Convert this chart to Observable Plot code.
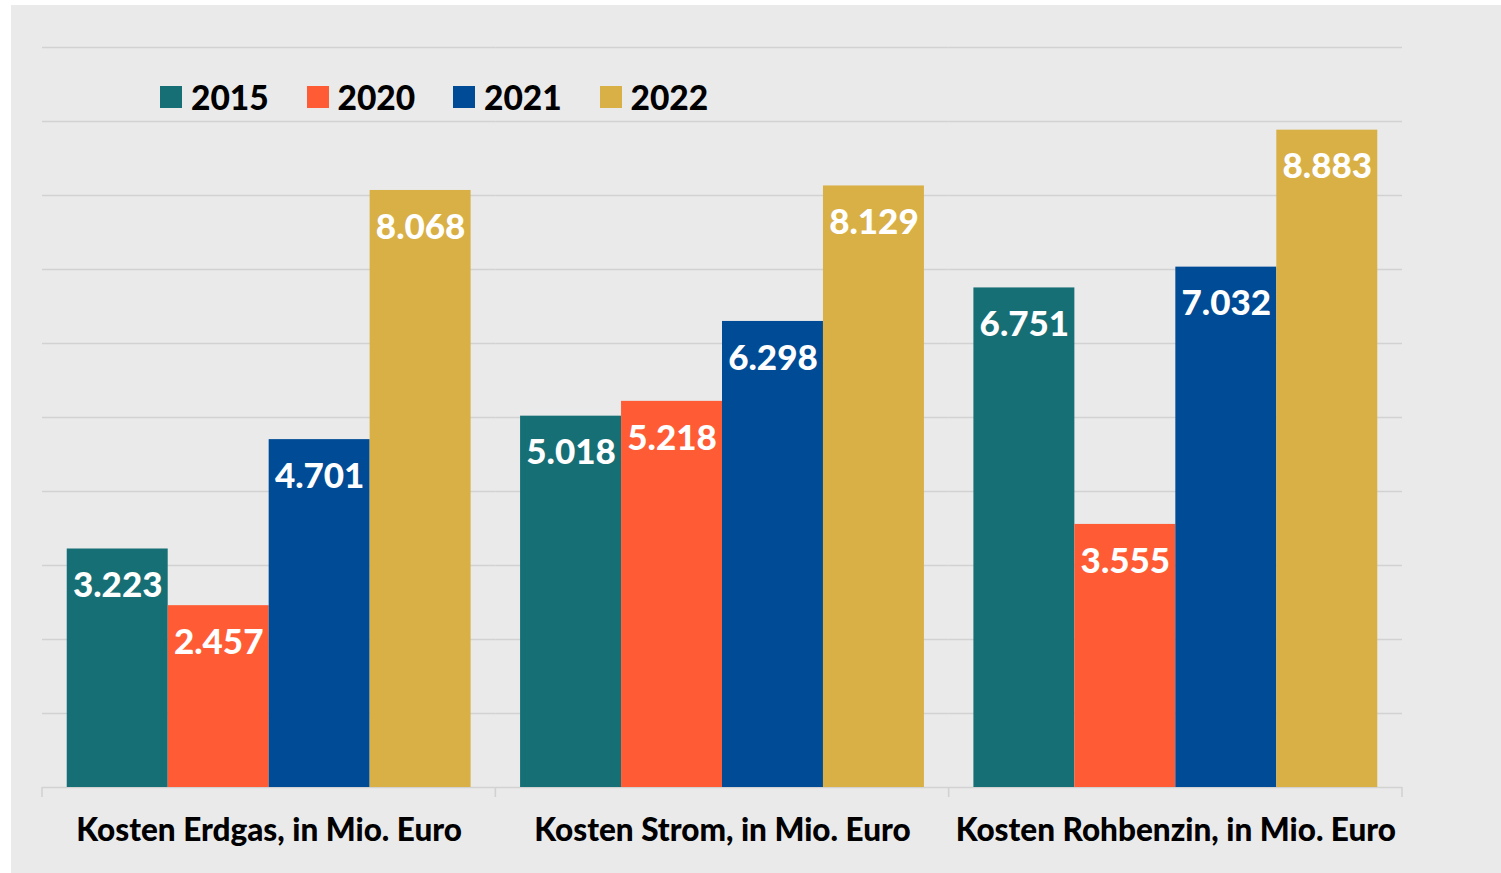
<!DOCTYPE html>
<html><head><meta charset="utf-8">
<script src="https://cdn.jsdelivr.net/npm/d3@7"></script>
<script src="https://cdn.jsdelivr.net/npm/@observablehq/plot@0.6"></script>
<style>
body{margin:0;background:#fff;font-family:Lato, sans-serif;}
#wrap{position:absolute;left:11px;top:5px;width:1490px;height:868px;background:#eaeaea;overflow:hidden;}
#chart{position:absolute;left:0;top:0;}
#chart text{font-weight:900;}
#legend{position:absolute;left:149px;top:81px;display:flex;z-index:2;}
.item{width:146.5px;height:22px;display:flex;align-items:center;font-weight:900;font-size:33.5px;line-height:22px;color:#000;}
.sw{width:22px;height:22px;margin-right:9px;flex:none;}
</style></head>
<body>
<div id="wrap"><div id="chart"></div><div id="legend"></div></div>
<script>
const categories = ["Kosten Erdgas, in Mio. Euro", "Kosten Strom, in Mio. Euro", "Kosten Rohbenzin, in Mio. Euro"];
const years = ["2015", "2020", "2021", "2022"];
const v2015 = [3223, 5018, 6751];
const v2020 = [2457, 5218, 3555];
const v2021 = [4701, 6298, 7032];
const v2022 = [8068, 8129, 8883];
const colors = ["#176f76", "#ff5c35", "#004b95", "#d9b046"];
const yTicks = d3.range(0, 10001, 1000);

const series = [v2015, v2020, v2021, v2022];
const data = categories.flatMap((c, i) => years.map((y, j) => ({category: c, year: y, value: series[j][i]})));
const fmt = d3.formatLocale({decimal: ",", thousands: ".", grouping: [3], currency: ["", " €"]}).format(",d");

const plot = Plot.plot({
  width: 1490, height: 868,
  marginLeft: 31, marginRight: 99, marginTop: 42, marginBottom: 86,
  style: {background: "transparent", fontFamily: "Lato, sans-serif", fontWeight: "bold", color: "#000", overflow: "visible"},
  fx: {domain: categories, padding: 0, round: false, label: null},
  x: {domain: years, paddingInner: 0, paddingOuter: 0.245, round: false, axis: null},
  y: {domain: [0, 10000], axis: null},
  color: {domain: years, range: colors},
  marks: [
    Plot.ruleY(yTicks, {stroke: "#d2d2d2", strokeWidth: 1.6}),
    Plot.barY(data, {fx: "category", x: "year", y: "value", fill: "year"}),
    Plot.text(data, {fx: "category", x: "year", y: "value", text: d => fmt(d.value), fill: "white", fontSize: 35, dy: 37}),
    Plot.axisFx({anchor: "bottom", tickSize: 0, tickPadding: 31, fontSize: 31.5, label: null, fill: "#000"})
  ]
});
document.getElementById("chart").appendChild(plot);

// boundary ticks at facet edges
const fx = plot.scale("fx"), ys = plot.scale("y");
const y0 = ys.apply(0);
const edges = categories.map(c => fx.apply(c)).concat([fx.apply(categories[categories.length - 1]) + fx.bandwidth]);
d3.select(plot).append("g").selectAll("line").data(edges).join("line")
  .attr("x1", d => d).attr("x2", d => d).attr("y1", y0).attr("y2", y0 + 10)
  .attr("stroke", "#d2d2d2").attr("stroke-width", 1.6);

// legend
const lg = d3.select("#legend");
years.forEach((y, i) => {
  const it = lg.append("div").attr("class", "item");
  it.append("div").attr("class", "sw").style("background", colors[i]);
  it.append("span").text(y);
});
</script>
</body></html>
